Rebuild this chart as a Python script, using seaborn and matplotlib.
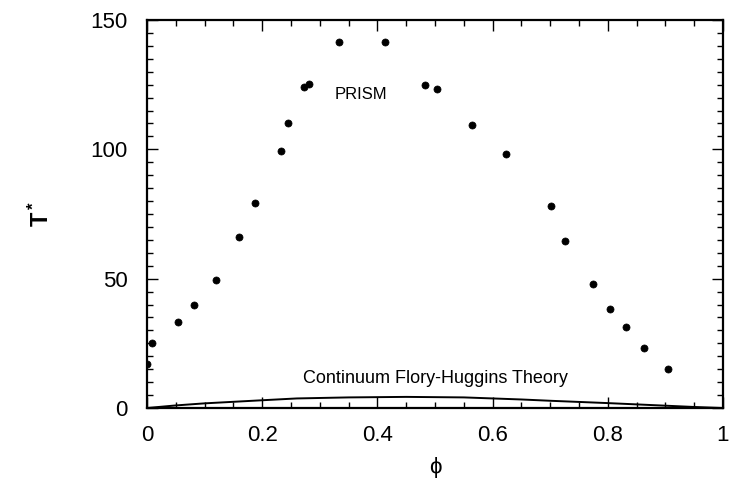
import matplotlib
matplotlib.use("Agg")
import matplotlib.pyplot as plt
import seaborn as sns
import pandas as pd
from matplotlib.ticker import MultipleLocator

# PRISM data points (phi, T*)
prism_phi = [0.0, 0.009, 0.053, 0.082, 0.120, 0.160, 0.188, 0.233, 0.245, 0.272, 0.282,
             0.333, 0.413, 0.483, 0.503, 0.564, 0.623, 0.702, 0.726, 0.774, 0.803,
             0.832, 0.862, 0.905]
prism_T = [16.9, 25.1, 33.2, 39.9, 49.5, 66.0, 79.1, 99.2, 110.0, 124.0, 125.4,
           141.5, 141.3, 124.8, 123.2, 109.3, 98.3, 78.0, 64.6, 48.1, 38.3,
           31.5, 23.3, 14.9]

# Continuum Flory-Huggins curve
fh_phi = [0.0, 0.05, 0.10, 0.15, 0.20, 0.26, 0.35, 0.45, 0.55, 0.65, 0.70, 0.80, 0.90, 0.95, 1.0]
fh_T = [0.0, 1.0, 1.8, 2.4, 3.0, 3.7, 4.1, 4.3, 4.1, 3.3, 2.8, 1.9, 0.9, 0.4, 0.0]

xticks = [0, 0.2, 0.4, 0.6, 0.8, 1]
xticklabels = ["0", "0.2", "0.4", "0.6", "0.8", "1"]
yticks = [0, 50, 100, 150]

sns.set_style("ticks")
plt.rcParams["font.family"] = ["Liberation Sans", "DejaVu Sans"]
plt.rcParams["mathtext.fontset"] = "custom"
plt.rcParams["mathtext.rm"] = "Liberation Sans"
plt.rcParams["mathtext.bf"] = "Liberation Sans:bold"
plt.rcParams["text.color"] = "black"
plt.rcParams["axes.labelcolor"] = "black"

fig = plt.figure(figsize=(7.3, 4.84), dpi=100)
ax = fig.add_axes([0.2014, 0.157, 0.7890, 0.8017])

df_p = pd.DataFrame({"phi": prism_phi, "T": prism_T})
df_f = pd.DataFrame({"phi": fh_phi, "T": fh_T})

sns.lineplot(data=df_f, x="phi", y="T", ax=ax, color="black", linewidth=1.4, sort=False)
sns.scatterplot(data=df_p, x="phi", y="T", ax=ax, color="black", s=26, edgecolor="black",
                linewidth=0.5, zorder=3)

ax.set_xlim(0, 1)
ax.set_ylim(0, 150)
ax.set_xticks(xticks)
ax.set_xticklabels(xticklabels)
ax.set_yticks(yticks)
ax.xaxis.set_minor_locator(MultipleLocator(0.05))
ax.yaxis.set_minor_locator(MultipleLocator(5))
ax.tick_params(which="both", direction="in", top=True, right=True, labelsize=16,
               width=1.0, colors="black", labelcolor="black")
ax.tick_params(which="major", length=8)
ax.tick_params(axis="x", which="major", pad=12)
ax.tick_params(axis="y", which="major", pad=14)
ax.tick_params(which="minor", length=4)
for sp in ax.spines.values():
    sp.set_linewidth(1.6)
    sp.set_color("black")

ax.set_xlabel("ϕ", fontsize=16, labelpad=8, color="black")
ax.set_ylabel(r"$\mathbf{T^*}$", fontsize=17, labelpad=26, color="black")

ax.text(0.372, 121.3, "PRISM", fontsize=12, ha="center", va="center", color="black")
ax.text(0.50, 11.3, "Continuum Flory-Huggins Theory", fontsize=13, ha="center", va="center",
        color="black")

fig.savefig("out.png", dpi=100)
